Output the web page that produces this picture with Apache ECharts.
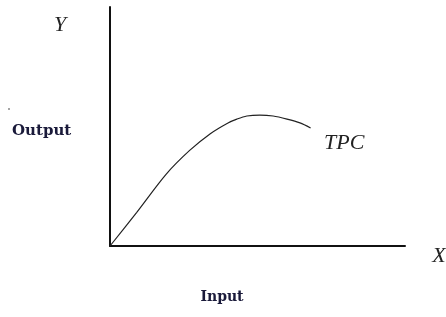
<!DOCTYPE html>
<html>
<head>
  <meta charset="utf-8" />
  <title>Total Product Curve</title>
  <script src="https://cdn.jsdelivr.net/npm/echarts@6/dist/echarts.min.js"></script>
  <style>
    html, body { margin: 0; padding: 0; background: #fff; }
    #main { width: 446px; height: 317px; }
  </style>
</head>
<body>
<div id="main"></div>
<script>
  // input (x) and output (y), 0..100 scale
  var inputVals = [0, 9, 19, 27, 34, 40, 43, 46.4, 50.8, 55.3, 60, 64.4, 68];
  var outputVals = [0, 14, 30, 40, 47, 51.5, 53.1, 54.4, 54.8, 54.4, 53.1, 51.5, 49.4];
  var curveName = 'TPC';

  var chart = echarts.init(document.getElementById('main'));
  var serif = '"Liberation Serif", "DejaVu Serif", serif';
  var wide = '"DejaVu Serif", serif';

  var pts = inputVals.map(function (x, i) { return [x, outputVals[i]]; });

  chart.setOption({
    animation: false,
    backgroundColor: '#fff',
    grid: { left: 110, top: 7, width: 295, height: 239 },
    xAxis: {
      type: 'value', min: 0, max: 100,
      axisLine: { lineStyle: { color: '#111', width: 2 } },
      axisTick: { show: false }, axisLabel: { show: false }, splitLine: { show: false }
    },
    yAxis: {
      type: 'value', min: 0, max: 100,
      axisLine: { show: true, lineStyle: { color: '#111', width: 2 } },
      axisTick: { show: false }, axisLabel: { show: false }, splitLine: { show: false }
    },
    series: [{
      name: curveName,
      type: 'line',
      data: pts,
      smooth: 0.3,
      symbol: 'none',
      lineStyle: { color: '#222', width: 1.2 }
    }],
    graphic: [
      { type: 'text', style: { x: 60, y: 25, text: 'Y', font: 'italic 22px ' + serif, fill: '#222', align: 'center', verticalAlign: 'middle' } },
      { type: 'text', style: { x: 12, y: 131, text: 'Output', font: 'bold 15px ' + wide, fill: '#1a1a3a', align: 'left', verticalAlign: 'middle' } },
      { type: 'text', style: { x: 324, y: 143, text: curveName, font: 'italic 22px ' + serif, fill: '#222', align: 'left', verticalAlign: 'middle' } },
      { type: 'text', style: { x: 439, y: 256, text: 'X', font: 'italic 22px ' + serif, fill: '#222', align: 'center', verticalAlign: 'middle' } },
      { type: 'text', style: { x: 222, y: 297, text: 'Input', font: 'bold 14px ' + wide, fill: '#1a1a3a', align: 'center', verticalAlign: 'middle' } },
      { type: 'circle', shape: { cx: 9, cy: 109, r: 0.8 }, style: { fill: '#333' } }
    ]
  });
</script>
</body>
</html>
